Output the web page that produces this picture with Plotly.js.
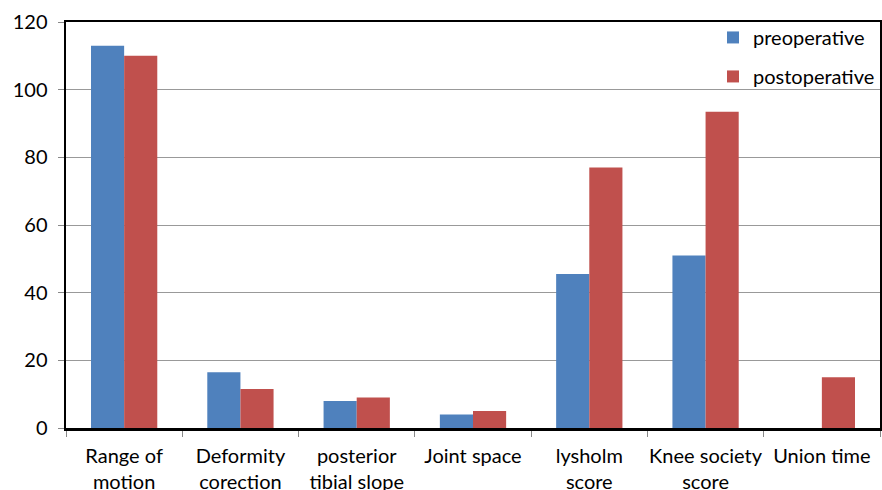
<!DOCTYPE html>
<html><head><meta charset="utf-8">
<script src="https://cdn.plot.ly/plotly-3.0.1.min.js"></script>
<style>html,body{margin:0;padding:0;background:#fff}</style>
</head><body>
<div id="chart" style="width:882px;height:490px"></div>
<script>
const categories = ["Range of<br>motion","Deformity<br>corection","posterior<br>tibial slope","Joint space","lysholm<br>score","Knee society<br>score","Union time"];
const preoperative = [113, 16.5, 8, 4, 45.5, 51, null];
const postoperative = [110, 11.5, 9, 5, 77, 93.5, 15];
const yTicks = [0, 20, 40, 60, 80, 100, 120];

const font = {family: "Lato, 'Open Sans', sans-serif", size: 20, color: "#000"};
const data = [
  {type: "bar", name: "preoperative", x: categories, y: preoperative, marker: {color: "#4F81BD"}, legendgroup: "a"},
  {type: "bar", name: "postoperative", x: categories, y: postoperative, marker: {color: "#C0504D"}, legendgroup: "b"}
];
const layout = {
  width: 882, height: 490,
  margin: {l: 66, r: 2, t: 22, b: 62},
  paper_bgcolor: "#fff", plot_bgcolor: "#fff",
  font: font,
  barmode: "group", bargap: 0.43, bargroupgap: 0,
  showlegend: true,
  legend: {x: 1.0, y: 1.01, xanchor: "right", yanchor: "top", bgcolor: "rgba(0,0,0,0)",
           font: {family: font.family, size: 20}, tracegroupgap: 10, traceorder: "grouped",
           itemwidth: 30},
  xaxis: {type: "category", showline: true, linecolor: "#000", linewidth: 2.5, mirror: true,
          ticks: "outside", tickson: "boundaries", ticklen: 6, tickcolor: "#888", tickwidth: 1,
          showgrid: false, tickfont: font, tickangle: 0, ticklabelstandoff: 8},
  yaxis: {range: [0, 120], tickvals: yTicks, showline: true, linecolor: "#000", linewidth: 2.5, mirror: true,
          ticks: "outside", ticklen: 6, tickcolor: "#888", showgrid: true, gridcolor: "#999", gridwidth: 1,
          zeroline: false, tickfont: font, ticklabelstandoff: 6}
};
Plotly.newPlot("chart", data, layout, {displayModeBar: false, staticPlot: true});
</script>
</body></html>
